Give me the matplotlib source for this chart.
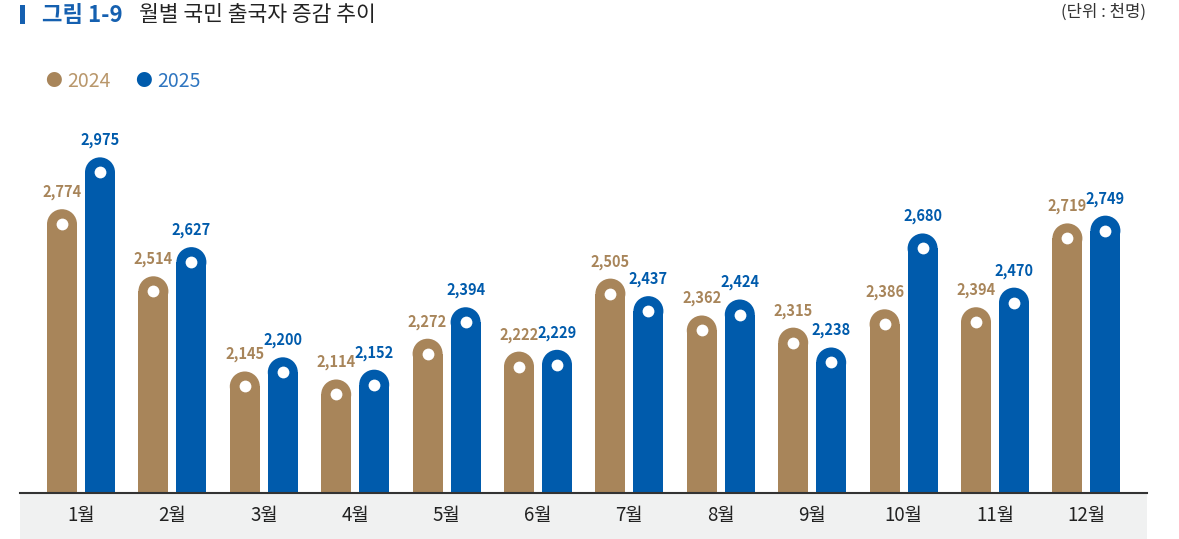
import matplotlib.pyplot as plt
from matplotlib.patches import Ellipse, Rectangle

plt.rcParams['font.family'] = ['Noto Sans CJK KR', 'DejaVu Sans']

months = ["1월", "2월", "3월", "4월", "5월", "6월", "7월", "8월", "9월", "10월", "11월", "12월"]
v2024 = [2774, 2514, 2145, 2114, 2272, 2222, 2505, 2362, 2315, 2386, 2394, 2719]
v2025 = [2975, 2627, 2200, 2152, 2394, 2229, 2437, 2424, 2238, 2680, 2470, 2749]

C24 = "#A8855A"
C25 = "#005BAC"
C24_TXT = "#A8855A"

W, H = 1179, 539
fig = plt.figure(figsize=(W / 100, H / 100), dpi=100)

# axes in pixel terms: x 20..1147, baseline at y=493 (from top)
ax_left, ax_right = 20, 1147
ax_bottom, ax_top = 493, 120
ax = fig.add_axes([ax_left / W, (H - ax_bottom) / H,
                   (ax_right - ax_left) / W, (ax_bottom - ax_top) / H])

ymin = 1674
px_per_unit = 0.258
ymax = ymin + (ax_bottom - ax_top) / px_per_unit
ax.set_ylim(ymin, ymax)

px_per_x = 91.4
ax.set_xlim(-(81 - ax_left) / px_per_x, (ax_right - 81) / px_per_x)

bw = 30 / px_per_x
off = 19 / px_per_x
r = 15 / px_per_unit  # cap radius in data units

for i in range(len(months)):
    for val, dx, col in [(v2024[i], -off, C24), (v2025[i], off, C25)]:
        x = i + dx
        ax.bar(x, val - r - ymin, width=bw, bottom=ymin, color=col, linewidth=0)
        ax.add_patch(Ellipse((x, val - r), bw, 2 * r, color=col, linewidth=0))
        ax.plot(x, val - r, "o", color="white", markersize=8.5, markeredgewidth=0)
        ax.text(x, val + 17 / px_per_unit, f"{val:,}", ha="center", va="center",
                fontsize=10.5, fontweight="bold",
                color=C24_TXT if col == C24 else C25)

ax.set_xticks(range(len(months)))
ax.set_xticklabels(months, fontsize=13.5, color="#222222")
ax.tick_params(axis="x", length=0, pad=9)
ax.set_yticks([])
for s in ["top", "right", "left"]:
    ax.spines[s].set_visible(False)
ax.spines["bottom"].set_color("#333333")
ax.spines["bottom"].set_linewidth(1.5)
ax.spines["bottom"].set_zorder(5)

# gray band under the axis
fig.patches.append(Rectangle((ax_left / W, 0), (ax_right - ax_left) / W, (H - ax_bottom) / H,
                             transform=fig.transFigure, facecolor="#F0F1F1",
                             edgecolor="none", zorder=-1))

# title
fig.patches.append(Rectangle((20 / W, 1 - 24 / H), 5 / W, 19 / H, transform=fig.transFigure,
                             facecolor="#1560B0", edgecolor="none"))
fig.text(42 / W, 1 - 15 / H, "그림 1-9", fontsize=16, fontweight="bold",
         color="#1560B0", va="center")
fig.text(139 / W, 1 - 15 / H, "월별 국민 출국자 증감 추이", fontsize=15.5,
         color="#222222", va="center")
fig.text(1146 / W, 1 - 12 / H, "(단위 : 천명)", fontsize=12, color="#333333",
         ha="right", va="center")

# legend
fig.text(53 / W, 1 - 81 / H, "●", fontsize=12, color=C24, ha="center", va="center")
fig.text(67 / W, 1 - 81 / H, "2024", fontsize=14, color="#B9976B", va="center")
fig.text(143 / W, 1 - 81 / H, "●", fontsize=12, color=C25, ha="center", va="center")
fig.text(157 / W, 1 - 81 / H, "2025", fontsize=14, color="#2E75C0", va="center")

fig.savefig("out.png", dpi=100)
